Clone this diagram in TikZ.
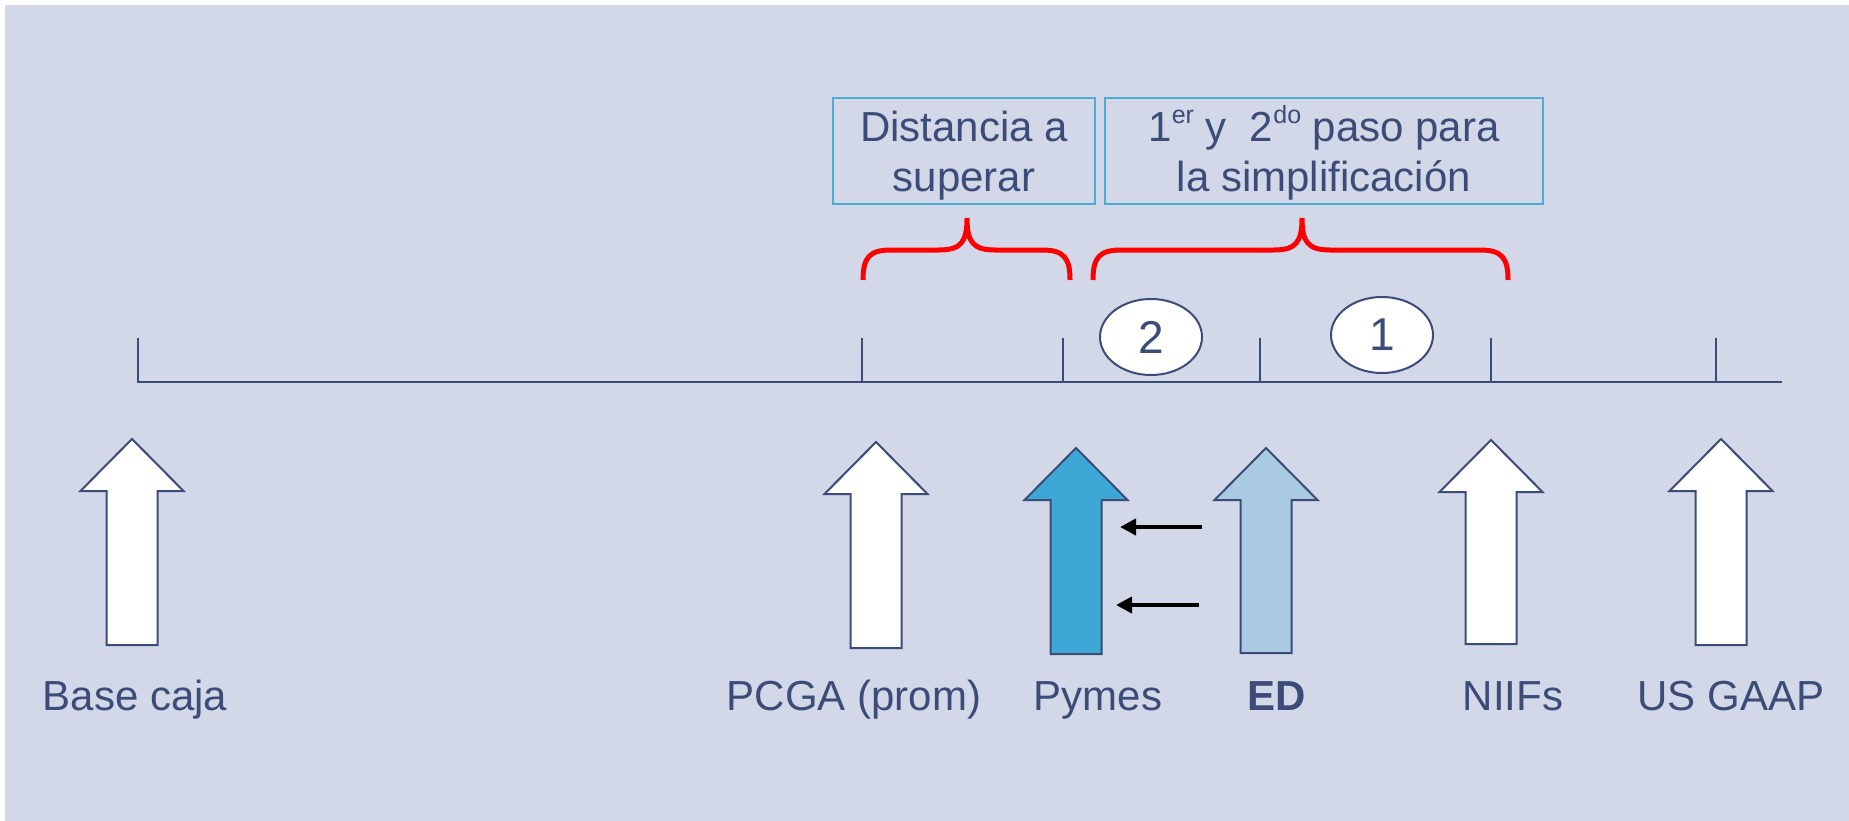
\documentclass[tikz,border=0pt]{standalone}
\usepackage{fontspec}
\setmainfont{Liberation Sans}
\usetikzlibrary{shapes.geometric,arrows.meta}
\definecolor{bgcol}{HTML}{D2D8E8}
\definecolor{darkc}{HTML}{3B4C78}
\definecolor{boxc}{HTML}{4BACD6}
\definecolor{pymesc}{HTML}{3DA8D6}
\definecolor{edc}{HTML}{AACAE2}
\newcommand\UpArr[4]{%
  \draw[arrout,fill=#4] (#1,#2) -- (#1+51.5,#2+52) -- (#1+25.5,#2+52) -- (#1+25.5,#3)
    -- (#1-25.5,#3) -- (#1-25.5,#2+52) -- (#1-51.5,#2+52) -- cycle;}
\newcommand\BraceCurve[4]{%
  \draw[bracec] (#1,280) .. controls (#1,258) and (#1+6,250) .. (#1+28,250)
    -- (#3-28,250) .. controls (#3-6,250) and (#3,242) .. (#3,#4)
    .. controls (#3,242) and (#3+6,250) .. (#3+28,250)
    -- (#2-28,250) .. controls (#2-6,250) and (#2,258) .. (#2,280);}
\begin{document}
\begin{tikzpicture}[x=1pt,y=-1pt,
  txt/.style={text=darkc,font=\fontsize{42}{50}\selectfont,inner sep=0pt,anchor=base},
  arrout/.style={draw=darkc,line width=2pt,line join=miter},
  axis/.style={draw=darkc,line width=2pt},
  bracec/.style={draw=red,line width=5pt},
  tbox/.style={draw=boxc,line width=2.5pt,rectangle,inner sep=0pt},
  oval/.style={ellipse,draw=darkc,fill=white,line width=2pt,minimum width=102pt,minimum height=76pt,inner sep=0pt,text=darkc,font=\fontsize{46}{50}\selectfont},
  blk/.style={draw=black,line width=4.5pt,-{Triangle[length=16pt,width=16pt]}}]
\useasboundingbox (0,0) rectangle (1849,821);
\fill[bgcol] (5,5) rectangle (1849,821);
% timeline
\draw[axis] (137,382) -- (1782,382);
\foreach \tx in {138,862,1063,1260,1491,1716} \draw[axis] (\tx,338) -- (\tx,382);
% ovals
\node[oval] (o2) at (1151,337) {2};
\node[oval] (o1) at (1382,335) {1};
% text boxes
\node[tbox,minimum width=262pt,minimum height=106pt] (b1) at (964,151) {};
\node[tbox,minimum width=438pt,minimum height=106pt] (b2) at (1324,151) {};
\node[txt] (b1l1) at (964,142) {Distancia a};
\node[txt] (b1l2) at (964,192) {superar};
\node[txt] (b2l1) at (1324,142) {1\raisebox{18pt}{\fontsize{25}{25}\selectfont er} y~~2\raisebox{18pt}{\fontsize{25}{25}\selectfont do} paso para};
\node[txt] (b2l2) at (1324,192) {la simplificación};
% braces
\BraceCurve{863}{1070}{967}{218}
\BraceCurve{1093}{1508}{1302}{218}
% big arrows
\UpArr{132}{439}{645}{white}
\UpArr{876}{442}{648}{white}
\UpArr{1076}{448}{654}{pymesc}
\UpArr{1266}{448}{653}{edc}
\UpArr{1491}{440}{644}{white}
\UpArr{1721}{439}{645}{white}
% small black arrows
\coordinate (s1) at (1202,527);
\coordinate (e1) at (1120,527);
\coordinate (s2) at (1199,605);
\coordinate (e2) at (1116,605);
\draw[blk] (s1) -- (e1);
\draw[blk] (s2) -- (e2);
% labels
\node[txt] (lbase) at (135,710) {Base caja};
\node[txt] (lpcga) at (854,710) {PCGA (prom)};
\node[txt] (lpymes) at (1098,710) {Pymes};
\node[txt,font=\fontsize{42}{50}\selectfont\bfseries] (led) at (1277,710) {ED};
\node[txt] (lniif) at (1513,710) {NIIFs};
\node[txt] (lusg) at (1731,710) {US GAAP};
\end{tikzpicture}
\end{document}
